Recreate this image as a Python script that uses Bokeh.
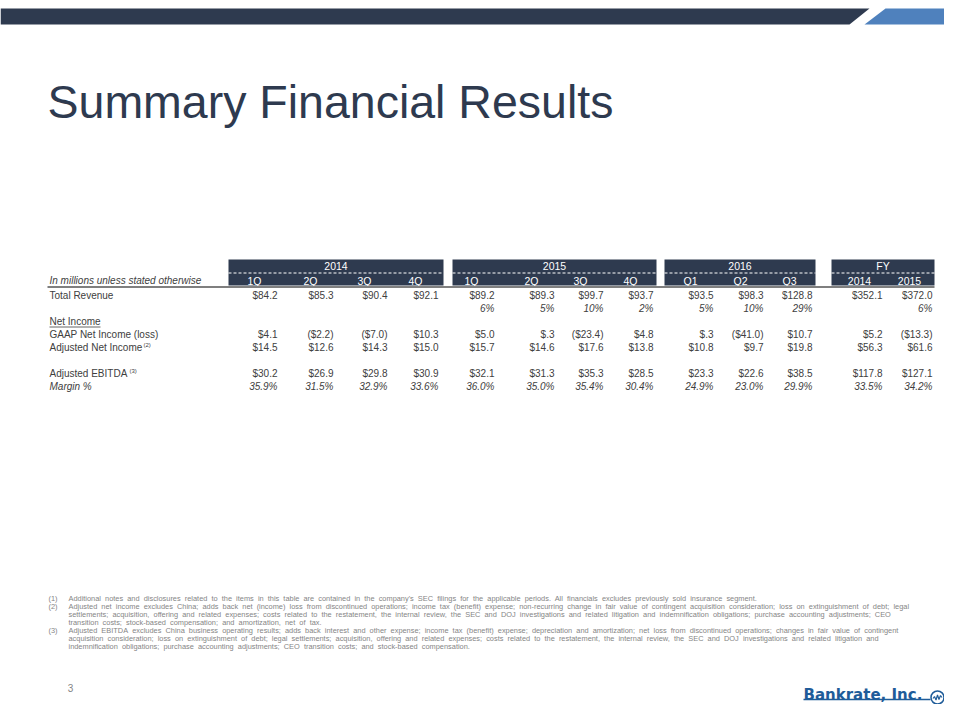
from bokeh.plotting import figure
from bokeh.models import Range1d
from bokeh.embed import file_html
from bokeh.resources import INLINE
from bokeh.core.properties import value

# ---------------- data ----------------
title = "Summary Financial Results"
unit_note = "In millions unless stated otherwise"
groups = ["2014", "2015", "2016", "FY"]
group_sizes = [4, 4, 3, 2]
col_labels = ["1Q", "2Q", "3Q", "4Q", "1Q", "2Q", "3Q", "4Q", "Q1", "Q2", "Q3", "2014", "2015"]
revenue = [84.2, 85.3, 90.4, 92.1, 89.2, 89.3, 99.7, 93.7, 93.5, 98.3, 128.8, 352.1, 372.0]
growth = [None, None, None, None, 6, 5, 10, 2, 5, 10, 29, None, 6]
gaap_net_income = [4.1, -2.2, -7.0, 10.3, 5.0, 0.3, -23.4, 4.8, 0.3, -41.0, 10.7, 5.2, -13.3]
adj_net_income = [14.5, 12.6, 14.3, 15.0, 15.7, 14.6, 17.6, 13.8, 10.8, 9.7, 19.8, 56.3, 61.6]
adj_ebitda = [30.2, 26.9, 29.8, 30.9, 32.1, 31.3, 35.3, 28.5, 23.3, 22.6, 38.5, 117.8, 127.1]
margin = [35.9, 31.5, 32.9, 33.6, 36.0, 35.0, 35.4, 30.4, 24.9, 23.0, 29.9, 33.5, 34.2]
footnote_nums = ["(1)", "(2)", "", "", "(3)", "", ""]
footnote_lines = [
    "Additional notes and disclosures related to the items in this table are contained in the company's SEC filings for the applicable periods. All financials excludes previously sold insurance segment.",
    "Adjusted net income excludes China; adds back net (income) loss from discontinued operations; income tax (benefit) expense; non-recurring change in fair value of contingent acquisition consideration; loss on extinguishment of debt; legal",
    "settlements; acquisition, offering and related expenses; costs related to the restatement, the internal review, the SEC and DOJ investigations and related litigation and indemnification obligations; purchase accounting adjustments; CEO",
    "transition costs; stock-based compensation; and amortization, net of tax.",
    "Adjusted EBITDA excludes China business operating results; adds back interest and other expense; income tax (benefit) expense; depreciation and amortization; net loss from discontinued operations; changes in fair value of contingent",
    "acquisition consideration; loss on extinguishment of debt; legal settlements; acquisition, offering and related expenses; costs related to the restatement, the internal review, the SEC and DOJ investigations and related litigation and",
    "indemnification obligations; purchase accounting adjustments; CEO transition costs; and stock-based compensation.",
]
page_number = "3"
logo_text = "Bankrate, Inc."

# ---------------- layout / style ----------------
NAVY = "#2E3A4F"
BLUE = "#4F81BD"
BODY = "#404040"
NOTE = "#858585"
FONT = value("Liberation Sans")
FS = "10px"
HFS = "10.5px"
FN_FS = "7.4px"

col_right = [277, 333, 387, 438, 494, 554, 603, 653, 713, 763, 812, 882, 932]
band_left = [228, 452, 664, 831]
band_right = [443, 656, 815, 934]
label_x = 49
y_year, y_col = 265.5, 280
y_rows = {"rev": 295, "growth": 308, "ni_head": 321, "gaap": 334, "adj": 347, "ebitda": 373, "margin": 386}

p = figure(width=944, height=704, x_range=Range1d(0, 944), y_range=Range1d(704, 0),
           x_axis_type=None, y_axis_type=None, output_backend="svg",
           toolbar_location=None, min_border=0)
p.xgrid.visible = False
p.ygrid.visible = False
p.outline_line_color = None
p.background_fill_color = "white"
p.border_fill_color = "white"

# top banner
p.patch([0, 869, 849, 0], [8, 8, 24, 24], fill_color=NAVY, line_color=None)
p.patch([885, 960, 960, 864], [8, 8, 24, 24], fill_color=BLUE, line_color=None)

# title
p.text(x=[47], y=[101], text=[title], text_font=FONT, text_font_size="46.5px",
       text_color=NAVY, text_baseline="alphabetic", text_align="left")

# header bands
p.quad(left=band_left, right=band_right, top=[259] * 4, bottom=[285] * 4,
       fill_color=NAVY, line_color=None)
p.segment(x0=band_left, x1=band_right, y0=[272.5] * 4, y1=[272.5] * 4,
          line_color="white", line_width=1, line_dash="3 2")
p.text(x=[(a + b) / 2 for a, b in zip(band_left, band_right)], y=[y_year] * 4, text=groups,
       text_font=FONT, text_font_size=HFS, text_color="white",
       text_align="center", text_baseline="middle")
p.text(x=[c - 23 for c in col_right], y=[y_col] * len(col_labels), text=col_labels,
       text_font=FONT, text_font_size=HFS, text_color="white",
       text_align="center", text_baseline="middle")
# gray rule
p.segment(x0=[47], x1=[934], y0=[286.5], y1=[286.5], line_color="#7F7F7F", line_width=2)

# row labels
p.text(x=[label_x], y=[y_col], text=[unit_note], text_font=FONT, text_font_size=FS,
       text_font_style="italic", text_color=BODY, text_baseline="middle")
labels = ["Total Revenue", "Net Income", "GAAP Net Income (loss)", "Adjusted Net Income", "Adjusted EBITDA"]
label_y = [y_rows["rev"], y_rows["ni_head"], y_rows["gaap"], y_rows["adj"], y_rows["ebitda"]]
p.text(x=[label_x] * len(labels), y=label_y, text=labels, text_font=FONT, text_font_size=FS,
       text_color=BODY, text_baseline="middle")
p.text(x=[label_x], y=[y_rows["margin"]], text=["Margin %"], text_font=FONT, text_font_size=FS,
       text_font_style="italic", text_color=BODY, text_baseline="middle")
p.segment(x0=[label_x], x1=[label_x + 51], y0=[y_rows["ni_head"] + 5.5], y1=[y_rows["ni_head"] + 5.5],
          line_color=BODY, line_width=0.8)
p.text(x=[label_x + 94, label_x + 80], y=[y_rows["adj"] - 3, y_rows["ebitda"] - 3], text=["(2)", "(3)"],
       text_font=FONT, text_font_size="6px", text_color=BODY, text_baseline="middle")


def money(v):
    s = f"{abs(v):.1f}"
    if s.startswith("0"):
        s = s[1:]
    return f"(${s})" if v < 0 else f"${s}"


def pct(v):
    return f"{v:.1f}%"


def row(vals, y, fmt, italic=False):
    xs, ts = [], []
    for c, v in zip(col_right, vals):
        if v is None:
            continue
        xs.append(c)
        ts.append(fmt(v))
    p.text(x=xs, y=[y] * len(xs), text=ts, text_font=FONT, text_font_size=FS,
           text_font_style="italic" if italic else "normal", text_color=BODY,
           text_align="right", text_baseline="middle")


row(revenue, y_rows["rev"], money)
row(growth, y_rows["growth"], lambda v: f"{v:.0f}%", italic=True)
row(gaap_net_income, y_rows["gaap"], money)
row(adj_net_income, y_rows["adj"], money)
row(adj_ebitda, y_rows["ebitda"], money)
row(margin, y_rows["margin"], pct, italic=True)

# footnotes (wide word spacing as in the original slide)
fy = [598 + 8 * i for i in range(len(footnote_lines))]
spaced = ["\u00a0 ".join(line.split()) for line in footnote_lines]
p.text(x=[48] * len(footnote_nums), y=fy, text=footnote_nums, text_font=FONT, text_font_size=FN_FS,
       text_color=NOTE, text_baseline="middle")
p.text(x=[68] * len(spaced), y=fy, text=spaced, text_font=FONT, text_font_size=FN_FS,
       text_color=NOTE, text_baseline="middle")

# page number
p.text(x=[70], y=[687], text=[page_number], text_font=FONT, text_font_size="10px",
       text_color=NOTE, text_align="center", text_baseline="middle")

# logo
LOGO = "#1F5C99"
p.text(x=[803], y=[694], text=[logo_text], text_font=value("DejaVu Sans"), text_font_size="15px",
       text_font_style="bold", text_color=LOGO, text_baseline="alphabetic")
p.segment(x0=[803], x1=[930], y0=[699], y1=[699], line_color=LOGO, line_width=1.5)
cx, cy = 937, 697
p.circle(x=[cx], y=[cy], radius=6.5, fill_color="white", line_color=LOGO, line_width=1.5)
zx = [-4.5, -3, -1.5, 0, 1.5, 3, 4.5]
zy = [1, -1, 2.5, -2.5, 2, -2, 0]
p.line(x=[cx + a for a in zx], y=[cy + b for b in zy], line_color=LOGO, line_width=1.2)

open("out.html", "w").write(file_html(p, INLINE))
